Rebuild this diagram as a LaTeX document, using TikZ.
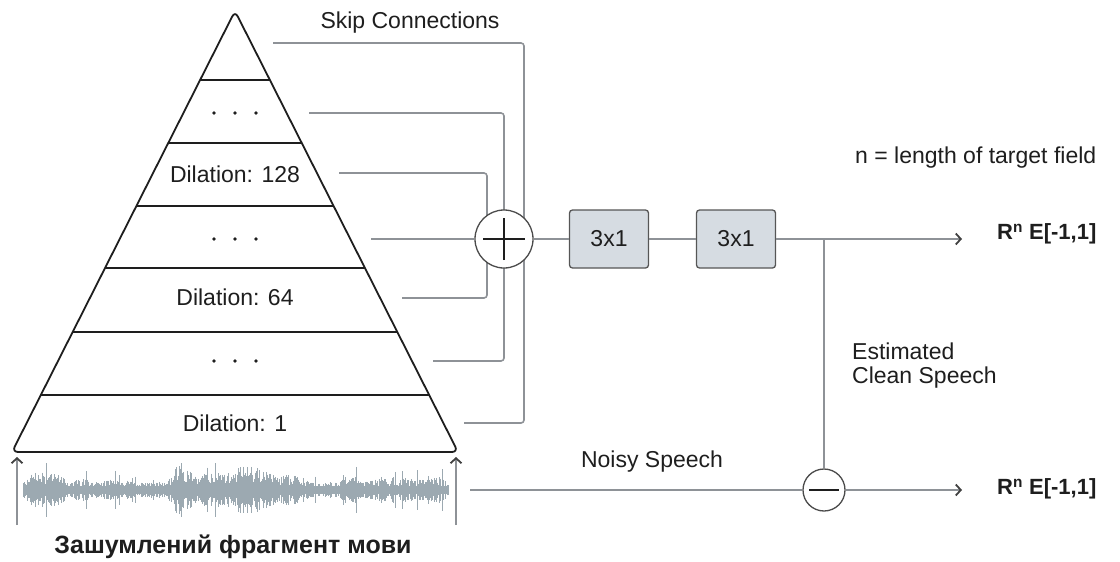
\documentclass[tikz,border=0pt]{standalone}
\usepackage{fontspec}
\setmainfont{Liberation Sans}
\usetikzlibrary{arrows.meta}
\definecolor{wire}{HTML}{8E9297}
\definecolor{wave}{HTML}{9CA9B1}
\definecolor{boxfill}{HTML}{D6DCE2}
\definecolor{ink}{HTML}{1E1E1E}

\begin{document}
\begin{tikzpicture}[x=1pt,y=-1pt,
  wire/.style={draw=wire,line width=1.6pt,rounded corners=3pt},
  layer/.style={draw=ink,line width=1.8pt},
  lbl/.style={font=\fontsize{23}{24}\selectfont,text=ink,inner sep=0pt},
  outlbl/.style={font=\fontsize{22}{24}\selectfont\bfseries,text=ink,inner sep=0pt,anchor=west},
  conv/.style={draw=ink!75,fill=boxfill,line width=1.3pt,rounded corners=3pt,
    minimum width=79pt,minimum height=58pt,inner sep=0pt,
    font=\fontsize{23}{24}\selectfont,text=ink},
  opnode/.style={circle,draw=ink!80,fill=white,line width=1.3pt,inner sep=0pt},
  tip/.style={-{Straight Barb[length=5pt,width=11pt,line width=1.8pt,color=ink!85]}},
  dot/.style={fill=ink}
]
\useasboundingbox (0,0) rectangle (1120,562);

% ---------- dilated convolution stack ----------
\draw[layer,rounded corners=6pt] (235,11) -- (458,452) -- (12,452) -- cycle;
\foreach \yy in {80,143,206,268,332,395}{
  \pgfmathsetmacro\hw{0.5057*(\yy-11)}
  \draw[layer] (235-\hw,\yy) -- (235+\hw,\yy);
}
\foreach \yy in {113,239,361}{
  \foreach \xx in {214,235,256} \fill[dot] (\xx,\yy) circle (1.9pt);
}
\node[lbl] (d128) at (235,174) {Dilation: 128};
\node[lbl] (d64)  at (235,297) {Dilation: 64};
\node[lbl] (d1)   at (235,423) {Dilation: 1};

% ---------- skip connections ----------
\coordinate (k1) at (273,43);
\coordinate (k2) at (309,113);
\coordinate (k3) at (339,173);
\coordinate (k4) at (371,239);
\coordinate (k5) at (402,298);
\coordinate (k6) at (433,361);
\coordinate (k7) at (464,423);
\draw[wire] (k1) -- (524,43) -- (524,423) -- (k7);
\draw[wire] (k2) -- (504,113) -- (504,361) -- (k6);
\draw[wire] (k3) -- (487,173) -- (487,298) -- (k5);
\node[opnode,minimum size=58pt] (sum) at (504,239) {};
\draw[ink,line width=2pt] ([xshift=-21pt]sum.center) -- ([xshift=21pt]sum.center);
\draw[ink,line width=2pt] ([yshift=-21pt]sum.center) -- ([yshift=21pt]sum.center);
\draw[wire] (k4) -- (sum);
\node[lbl] (skip) at (410,23) {Skip Connections};

% ---------- output convolutions ----------
\node[conv] (c1) at (609,239) {3x1};
\node[conv] (c2) at (736,239) {3x1};
\coordinate (split) at (824,239);
\coordinate (outA) at (962,239);
\draw[wire] (sum) -- (c1);
\draw[wire] (c1) -- (c2);
\draw[wire,tip] (c2) -- (outA);
\node[outlbl] (rA) at (997,234) {R\textsuperscript{n} E[-1,1]};
\node[lbl,anchor=west] (nlen) at (855,158) {n = length of target field};

% ---------- noisy input waveform ----------
\pgfmathdeclarefunction{bump}{3}{%
  \pgfmathparse{max(0,1-((#1-#2)/#3)^2)}%
}
\pgfmathsetseed{5}
\fill[wave] (23,486) rectangle (449,494);
\foreach \x in {23,23.8,...,449}{
  \pgfmathsetmacro\env{7
    + 10*bump(\x,45,25) + 3*bump(\x,85,15) + 4*bump(\x,120,20)
    + 16*bump(\x,182,15) + 10*bump(\x,212,18) + 16*bump(\x,250,28)
    + 7*bump(\x,290,20) + 6*bump(\x,350,12) + 4*bump(\x,400,40)
    + 6*bump(\x,435,12)}
  \pgfmathsetmacro\a{min(27,\env*(0.35+0.75*rnd)*(rnd>0.94 ? 1.9 : 1))}
  \draw[wave,line width=1pt] (\x,490-\a) -- (\x,490+\a);
}
\coordinate (upL0) at (17,525);
\coordinate (upL1) at (17,457);
\coordinate (upR0) at (456,525);
\coordinate (upR1) at (456,457);
\draw[wire,tip] (upL0) -- (upL1);
\draw[wire,tip] (upR0) -- (upR1);
\node[font=\fontsize{25}{27}\selectfont\bfseries,text=ink,inner sep=0pt] (inlbl) at (233,547) {Зашумлений фрагмент мови};

% ---------- subtraction ----------
\node[opnode,minimum size=42pt] (minus) at (824,490) {};
\draw[ink,line width=2.6pt] ([xshift=-15pt]minus.center) -- ([xshift=15pt]minus.center);
\coordinate (noisy) at (470,490);
\coordinate (outB) at (962,490);
\draw[wire] (split) -- (minus);
\draw[wire] (noisy) -- (minus);
\draw[wire,tip] (minus) -- (outB);
\node[outlbl] (rB) at (997,489) {R\textsuperscript{n} E[-1,1]};
\node[lbl] (noisylbl) at (652,462) {Noisy Speech};
\node[lbl,anchor=west,align=left] (est) at (852,366) {Estimated\\Clean Speech};
\end{tikzpicture}
\end{document}
